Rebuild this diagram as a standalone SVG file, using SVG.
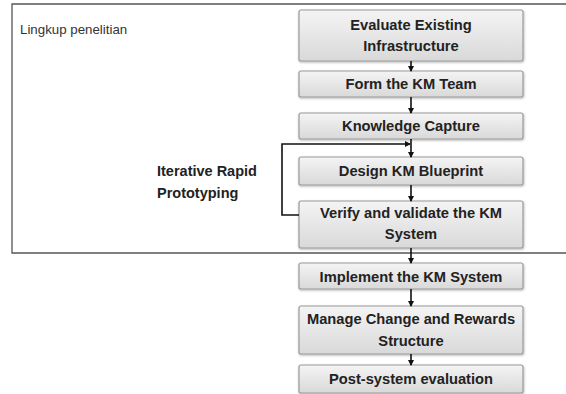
<svg xmlns="http://www.w3.org/2000/svg" width="566" height="394" viewBox="0 0 566 394">
<defs>
<linearGradient id="g" x1="0" y1="0" x2="0" y2="1">
<stop offset="0" stop-color="#f4f4f4"/>
<stop offset="1" stop-color="#d9d9d9"/>
</linearGradient>
<marker id="ah" markerWidth="6" markerHeight="6" refX="5" refY="3" orient="auto" markerUnits="userSpaceOnUse">
<path d="M0,0 L6,3 L0,6 Z" fill="#111"/>
</marker>
<filter id="sh" x="-5%" y="-10%" width="110%" height="130%">
<feDropShadow dx="0.5" dy="1" stdDeviation="0.8" flood-color="#000" flood-opacity="0.3"/>
</filter>
</defs>
<style>
.box{fill:url(#g);stroke:#9a9a9a;stroke-width:1.2;filter:url(#sh)}
.t{font-family:"Liberation Sans",Arial,sans-serif;font-weight:bold;font-size:14.7px;fill:#222;text-anchor:middle}
.lbl{font-family:"Liberation Sans",Arial,sans-serif;font-weight:bold;font-size:14.5px;fill:#222}
.c{stroke:#111;stroke-width:1.6;fill:none;marker-end:url(#ah)}
</style>
<rect width="566" height="394" fill="#fff"/>
<g id="scope">
<path d="M570,4 L12,4 L12,253 L570,253" fill="none" stroke="#555" stroke-width="1.3"/>
<text x="20" y="34" font-family="'Liberation Sans',Arial,sans-serif" font-size="13.3" fill="#333">Lingkup penelitian</text>
</g>
<g id="n1"><rect class="box" x="299" y="10" width="224" height="51" rx="2"/><text class="t" x="411" y="30">Evaluate Existing</text><text class="t" x="411" y="51">Infrastructure</text></g>
<g id="n2"><rect class="box" x="299" y="71" width="224" height="26" rx="2"/><text class="t" x="411" y="89">Form the KM Team</text></g>
<g id="n3"><rect class="box" x="299" y="113" width="224" height="26" rx="2"/><text class="t" x="411" y="131">Knowledge Capture</text></g>
<g id="n4"><rect class="box" x="299" y="157" width="224" height="28" rx="2"/><text class="t" x="411" y="176">Design KM Blueprint</text></g>
<g id="n5"><rect class="box" x="299" y="201" width="224" height="47" rx="2"/><text class="t" x="411" y="218">Verify and validate the KM</text><text class="t" x="411" y="239">System</text></g>
<g id="n6"><rect class="box" x="299" y="263" width="224" height="26" rx="2"/><text class="t" x="411" y="282">Implement the KM System</text></g>
<g id="n7"><rect class="box" x="299" y="306" width="224" height="48" rx="2"/><text class="t" x="411" y="324">Manage Change and Rewards</text><text class="t" x="411" y="346">Structure</text></g>
<g id="n8"><rect class="box" x="299" y="365" width="224" height="28" rx="2"/><text class="t" x="411" y="384">Post-system evaluation</text></g>
<g id="loop-label"><text class="lbl" x="157" y="176">Iterative Rapid</text><text class="lbl" x="157" y="198">Prototyping</text></g>
<g id="connectors">
<line class="c" x1="411" y1="61" x2="411" y2="71"/>
<line class="c" x1="411" y1="97" x2="411" y2="113"/>
<line class="c" x1="411" y1="139" x2="411" y2="157"/>
<line class="c" x1="411" y1="185" x2="411" y2="201"/>
<line class="c" x1="411" y1="248" x2="411" y2="263"/>
<line class="c" x1="411" y1="289" x2="411" y2="306"/>
<line class="c" x1="411" y1="354" x2="411" y2="365"/>
<path class="c" d="M299,215 L282,215 L282,144 L410,144" stroke-width="2"/>
</g>
</svg>
